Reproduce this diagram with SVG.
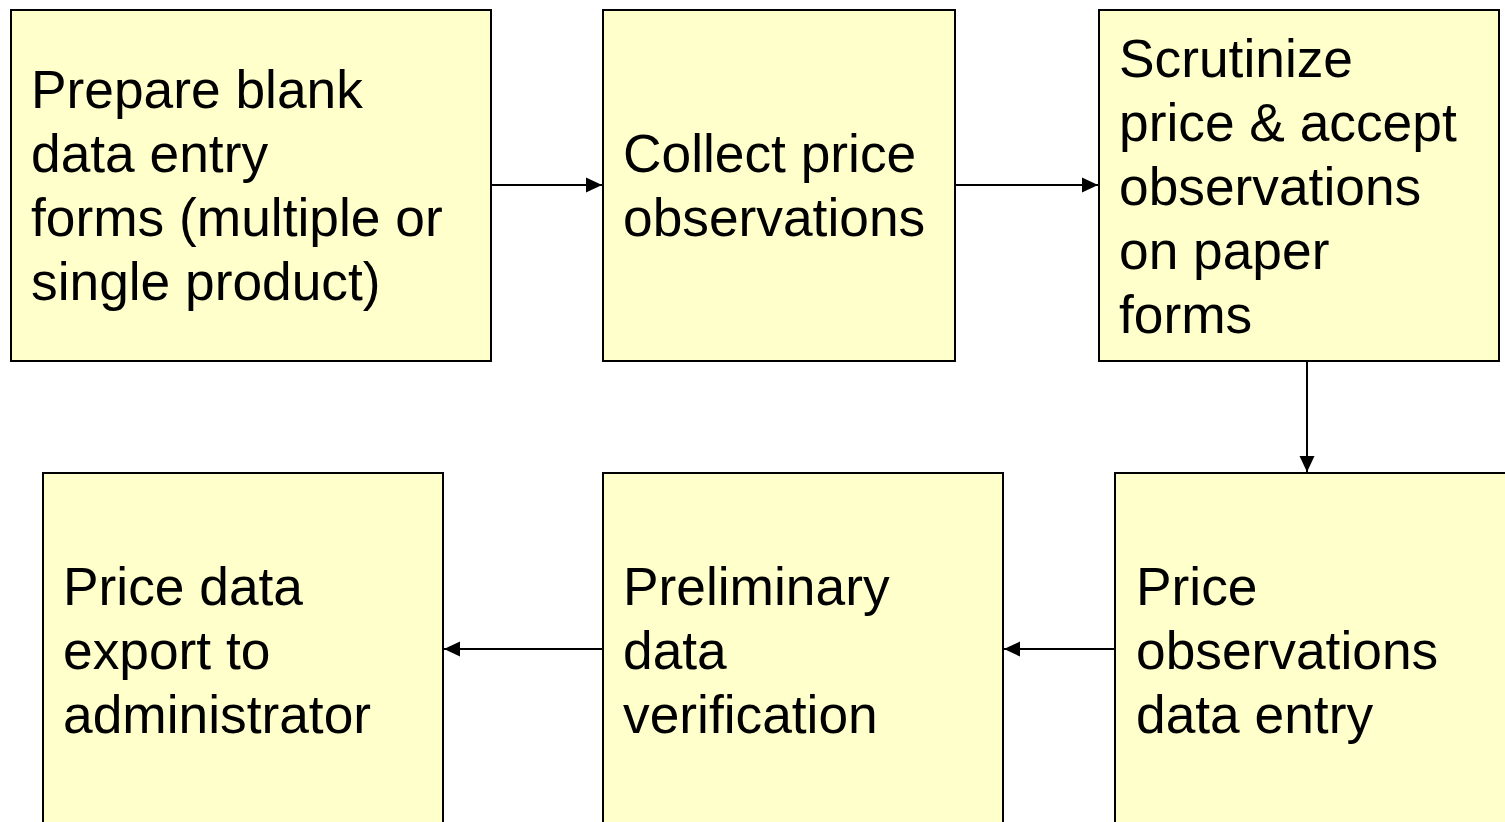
<svg xmlns="http://www.w3.org/2000/svg" width="1505" height="822" viewBox="0 0 1505 822">
<style>
.box{fill:#FFFFCC;stroke:#000;stroke-width:2}
.t{font-family:"Liberation Sans",Arial,sans-serif;font-size:53.3px;fill:#000}
.c{stroke:#000;stroke-width:2;fill:none;marker-end:url(#ah)}
</style>
<defs>
<marker id="ah" markerUnits="userSpaceOnUse" markerWidth="17" markerHeight="16" refX="16" refY="8" orient="auto" overflow="visible">
<path d="M0,0.5 L16,8 L0,15.5 Z" fill="#000"/>
</marker>
</defs>
<rect width="1505" height="822" fill="#fff"/>
<g id="n1">
<rect class="box" x="11" y="10" width="480" height="351"/>
<text class="t"><tspan x="31" y="108">Prepare blank</tspan><tspan x="31" y="172">data entry</tspan><tspan x="31" y="236">forms (multiple or</tspan><tspan x="31" y="300">single product)</tspan></text>
</g>
<g id="n2">
<rect class="box" x="603" y="10" width="352" height="351"/>
<text class="t"><tspan x="623" y="172">Collect price</tspan><tspan x="623" y="236">observations</tspan></text>
</g>
<g id="n3">
<rect class="box" x="1099" y="10" width="400" height="351"/>
<text class="t"><tspan x="1119" y="77">Scrutinize</tspan><tspan x="1119" y="141">price &amp; accept</tspan><tspan x="1119" y="205">observations</tspan><tspan x="1119" y="269">on paper</tspan><tspan x="1119" y="333">forms</tspan></text>
</g>
<g id="n4">
<rect class="box" x="1115" y="473" width="400" height="360"/>
<text class="t"><tspan x="1136" y="605">Price</tspan><tspan x="1136" y="669">observations</tspan><tspan x="1136" y="733">data entry</tspan></text>
</g>
<g id="n5">
<rect class="box" x="603" y="473" width="400" height="360"/>
<text class="t"><tspan x="623" y="605">Preliminary</tspan><tspan x="623" y="669">data</tspan><tspan x="623" y="733">verification</tspan></text>
</g>
<g id="n6">
<rect class="box" x="43" y="473" width="400" height="360"/>
<text class="t"><tspan x="63" y="605">Price data</tspan><tspan x="63" y="669">export to</tspan><tspan x="63" y="733">administrator</tspan></text>
</g>
<g id="connectors">
<path class="c" d="M491,185 H602"/>
<path class="c" d="M955,185 H1098"/>
<path class="c" d="M1307,361 V472"/>
<path class="c" d="M1115,649 H1004"/>
<path class="c" d="M603,649 H444"/>
</g>
</svg>
